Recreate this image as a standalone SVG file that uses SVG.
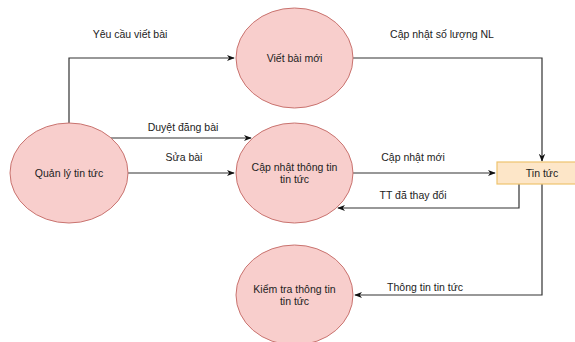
<svg xmlns="http://www.w3.org/2000/svg" width="575" height="342" viewBox="0 0 575 342">
  <style>
    .proc { fill: #f8cecc; stroke: #c9736f; stroke-width: 1; }
    .store { fill: #fde6c8; stroke: #eec46e; stroke-width: 1.2; }
    .edge { fill: none; stroke: #333; stroke-width: 1.2; }
    text { font-family: "Liberation Sans", Arial, sans-serif; font-size: 10.5px; fill: #222; }
    .c { text-anchor: middle; }
  </style>
  <defs>
    <marker id="arrow" viewBox="0 0 10 10" refX="9" refY="5" markerWidth="8" markerHeight="8" orient="auto" markerUnits="userSpaceOnUse">
      <path d="M0,1 L10,5 L0,9 L3,5 Z" fill="#111"/>
    </marker>
  </defs>
  <rect width="575" height="342" fill="#fff"/>

  <g id="connectors">
    <polyline class="edge" points="69,123 69,58 234,58" marker-end="url(#arrow)"/>
    <line class="edge" x1="110" y1="138" x2="251" y2="138" marker-end="url(#arrow)"/>
    <line class="edge" x1="128" y1="173" x2="234" y2="173" marker-end="url(#arrow)"/>
    <polyline class="edge" points="353,58 542,58 542,161" marker-end="url(#arrow)"/>
    <line class="edge" x1="353" y1="173" x2="495" y2="173" marker-end="url(#arrow)"/>
    <polyline class="edge" points="519,184 519,208 338,208" marker-end="url(#arrow)"/>
    <polyline class="edge" points="542,184 542,295 355,295" marker-end="url(#arrow)"/>
    <text class="c" x="130" y="38">Yêu cầu viết bài</text>
    <text class="c" x="183" y="131">Duyệt đăng bài</text>
    <text class="c" x="184" y="161">Sửa bài</text>
    <text class="c" x="442" y="38">Cập nhật số lượng NL</text>
    <text class="c" x="413" y="161">Cập nhật mới</text>
    <text class="c" x="413" y="199">TT đã thay đổi</text>
    <text class="c" x="425" y="291">Thông tin tin tức</text>
  </g>

  <g id="quan-ly-tin-tuc">
    <ellipse class="proc" cx="69" cy="173" rx="59" ry="50"/>
    <text class="c" x="69" y="177">Quản lý tin tức</text>
  </g>
  <g id="viet-bai-moi">
    <ellipse class="proc" cx="294.5" cy="58" rx="58.5" ry="50"/>
    <text class="c" x="294.5" y="62">Viết bài mới</text>
  </g>
  <g id="cap-nhat-thong-tin">
    <ellipse class="proc" cx="294.5" cy="173" rx="58.5" ry="50"/>
    <text class="c" x="294.5" y="171">Cập nhật thông tin</text>
    <text class="c" x="294.5" y="183">tin tức</text>
  </g>
  <g id="kiem-tra-thong-tin">
    <ellipse class="proc" cx="294.5" cy="295" rx="58.5" ry="50"/>
    <text class="c" x="294.5" y="293">Kiểm tra thông tin</text>
    <text class="c" x="294.5" y="305">tin tức</text>
  </g>
  <g id="tin-tuc">
    <rect class="store" x="497" y="162" width="90" height="22"/>
    <text class="c" x="542" y="177">Tin tức</text>
  </g>
</svg>
